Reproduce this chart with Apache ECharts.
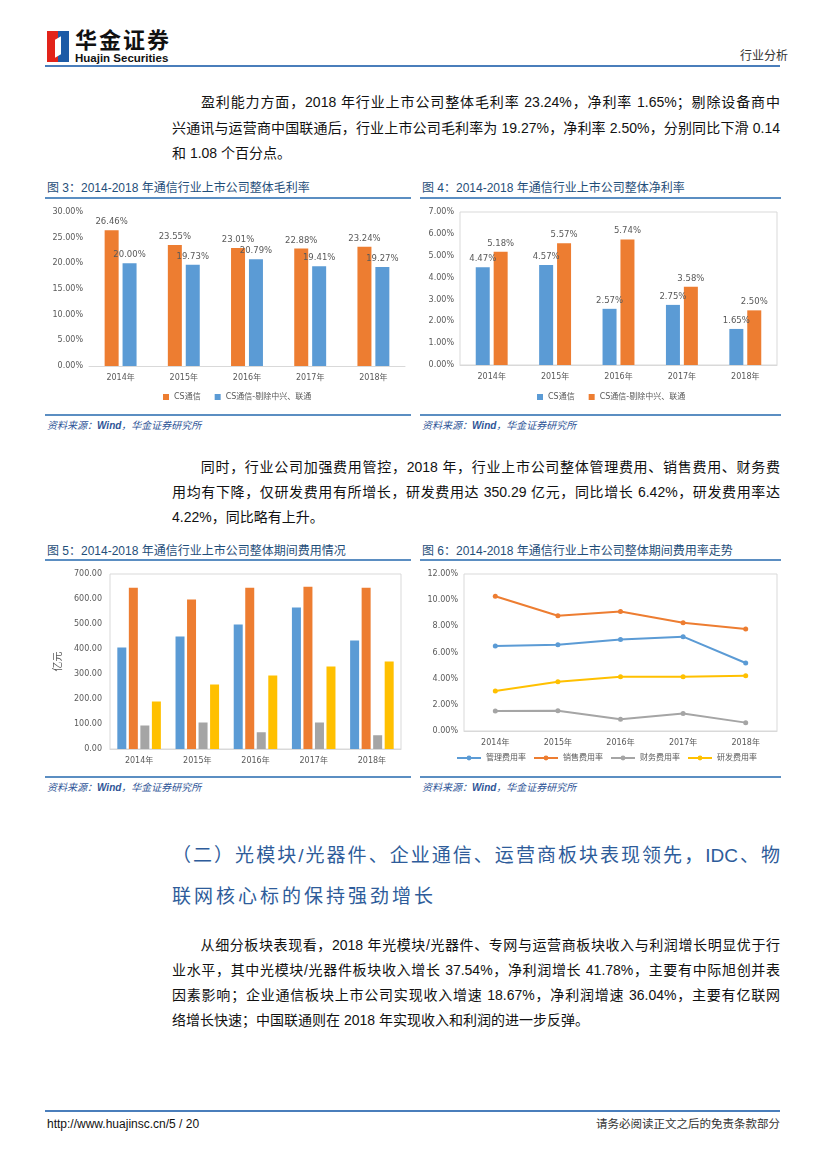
<!DOCTYPE html>
<html><head><meta charset="utf-8">
<script src="https://cdn.jsdelivr.net/npm/echarts@6/dist/echarts.min.js"></script>
<style>
html,body{margin:0;padding:0;background:#fff;}
body{width:827px;height:1169px;position:relative;overflow:hidden;font-family:"Liberation Sans","Noto Sans CJK SC",sans-serif;color:#111;}
.abs{position:absolute;}
.ln{position:absolute;left:172px;width:608px;font-size:14px;line-height:20px;height:20px;white-space:nowrap;}
.j{text-align:justify;text-align-last:justify;}
.ttl{position:absolute;font-size:12px;color:#1F4E79;line-height:16px;white-space:nowrap;}
.rule{position:absolute;height:1.5px;background:#5B8EC2;}
.src{position:absolute;font-size:10px;font-style:italic;color:#2F5597;line-height:14px;white-space:nowrap;}
.h2{position:absolute;left:172px;width:608px;font-size:19px;color:#2E5C9A;line-height:26px;white-space:nowrap;}
.chart{position:absolute;}
</style></head>
<body>
<!-- header -->
<div class="abs" style="left:47px;top:31px;width:11px;height:31px;background:#E2231A;"></div>
<div class="abs" style="left:58px;top:31px;width:11px;height:31px;background:#1D5BA6;"></div>
<div class="abs" style="left:55px;top:38px;width:6px;height:18px;background:#fff;transform:skewY(-30deg);"></div>
<div class="abs" style="left:75px;top:25px;font-size:22px;font-weight:bold;letter-spacing:2px;font-family:'Noto Sans CJK SC';line-height:26px;">华金证券</div>
<div class="abs" style="left:75px;top:52px;font-size:11.5px;font-weight:bold;line-height:12px;font-family:'Liberation Sans Narrow','Liberation Sans';">Huajin Securities</div>
<div class="abs" style="left:740px;top:48px;font-size:12px;color:#333;line-height:16px;">行业分析</div>
<div class="abs" style="left:45px;top:65px;width:735px;height:2px;background:#4A7EBB;"></div>

<!-- paragraph 1 -->
<div class="ln j" style="top:92px;"><span style="display:inline-block;width:28px"></span>盈利能力方面，2018 年行业上市公司整体毛利率 23.24%，净利率 1.65%；剔除设备商中</div>
<div class="ln j" style="top:118px;">兴通讯与运营商中国联通后，行业上市公司毛利率为 19.27%，净利率 2.50%，分别同比下滑 0.14</div>
<div class="ln" style="top:143px;">和 1.08 个百分点。</div>

<!-- fig 3 / 4 titles -->
<div class="ttl" style="left:47px;top:180px;">图 3：2014-2018 年通信行业上市公司整体毛利率</div>
<div class="rule" style="left:45px;top:197px;width:366px;"></div>
<div class="ttl" style="left:422px;top:180px;">图 4：2014-2018 年通信行业上市公司整体净利率</div>
<div class="rule" style="left:420px;top:197px;width:361px;"></div>
<div id="c3" class="chart" style="left:40px;top:200px;width:375px;height:212px;"></div>
<div id="c4" class="chart" style="left:415px;top:200px;width:370px;height:212px;"></div>
<div class="rule" style="left:45px;top:414px;width:366px;"></div>
<div class="rule" style="left:420px;top:414px;width:361px;"></div>
<div class="src" style="left:47px;top:419px;">资料来源：<b>Wind</b>，华金证券研究所</div>
<div class="src" style="left:422px;top:419px;">资料来源：<b>Wind</b>，华金证券研究所</div>

<!-- paragraph 2 -->
<div class="ln j" style="top:457px;"><span style="display:inline-block;width:28px"></span>同时，行业公司加强费用管控，2018 年，行业上市公司整体管理费用、销售费用、财务费</div>
<div class="ln j" style="top:482px;">用均有下降，仅研发费用有所增长，研发费用达 350.29 亿元，同比增长 6.42%，研发费用率达</div>
<div class="ln" style="top:507px;">4.22%，同比略有上升。</div>

<!-- fig 5 / 6 -->
<div class="ttl" style="left:47px;top:543px;">图 5：2014-2018 年通信行业上市公司整体期间费用情况</div>
<div class="rule" style="left:45px;top:559px;width:366px;"></div>
<div class="ttl" style="left:422px;top:543px;">图 6：2014-2018 年通信行业上市公司整体期间费用率走势</div>
<div class="rule" style="left:420px;top:559px;width:361px;"></div>
<div id="c5" class="chart" style="left:40px;top:562px;width:375px;height:212px;"></div>
<div id="c6" class="chart" style="left:415px;top:562px;width:370px;height:212px;"></div>
<div class="rule" style="left:45px;top:776px;width:366px;"></div>
<div class="rule" style="left:420px;top:776px;width:361px;"></div>
<div class="src" style="left:47px;top:781px;">资料来源：<b>Wind</b>，华金证券研究所</div>
<div class="src" style="left:422px;top:781px;">资料来源：<b>Wind</b>，华金证券研究所</div>

<!-- section heading -->
<div class="h2 j" style="top:843px;">（二）光模块/光器件、企业通信、运营商板块表现领先，IDC、物</div>
<div class="h2" style="top:884px;letter-spacing:3px;">联网核心标的保持强劲增长</div>

<!-- paragraph 3 -->
<div class="ln j" style="top:935px;"><span style="display:inline-block;width:28px"></span>从细分板块表现看，2018 年光模块/光器件、专网与运营商板块收入与利润增长明显优于行</div>
<div class="ln j" style="top:960px;">业水平，其中光模块/光器件板块收入增长 37.54%，净利润增长 41.78%，主要有中际旭创并表</div>
<div class="ln j" style="top:985px;">因素影响；企业通信板块上市公司实现收入增速 18.67%，净利润增速 36.04%，主要有亿联网</div>
<div class="ln" style="top:1010px;">络增长快速；中国联通则在 2018 年实现收入和利润的进一步反弹。</div>

<!-- footer -->
<div class="abs" style="left:45px;top:1110px;width:735px;height:2px;background:#4A7EBB;"></div>
<div class="abs" style="left:47px;top:1116px;font-size:12px;line-height:16px;font-family:'Liberation Sans Narrow','Liberation Sans';">http://www.huajinsc.cn/5 / 20</div>
<div class="abs" style="left:585px;top:1116px;width:195px;text-align:right;font-size:11.5px;line-height:16px;color:#333;">请务必阅读正文之后的免责条款部分</div>

<script>
// ---------- data ----------
var years = ['2014年','2015年','2016年','2017年','2018年'];
// Fig 3: gross margin (%)
var grossCS = [26.46, 23.55, 23.01, 22.88, 23.24];
var grossEx = [20.00, 19.73, 20.79, 19.41, 19.27];
// Fig 4: net margin (%)
var netCS = [4.47, 4.57, 2.57, 2.75, 1.65];
var netEx = [5.18, 5.57, 5.74, 3.58, 2.50];
// Fig 5: period expenses (亿元)
var expMgmt = [406, 450, 498, 566, 434];
var expSales = [645, 598, 645, 649, 645];
var expFin = [94, 106, 67, 106, 55];
var expRD = [190, 258, 294, 330, 350.29];
// Fig 6: expense ratios (%)
var rateMgmt = [6.49, 6.59, 7.00, 7.21, 5.20];
var rateSales = [10.30, 8.81, 9.14, 8.27, 7.80];
var rateFin = [1.52, 1.55, 0.90, 1.34, 0.64];
var rateRD = [3.06, 3.76, 4.15, 4.15, 4.22];
var nameCS = 'CS通信';
var nameEx = 'CS通信-剔除中兴、联通';
var rateNames = ['管理费用率','销售费用率','财务费用率','研发费用率'];

var BLUE='#5B9BD5', ORANGE='#ED7D31', GRAY='#A5A5A5', YELLOW='#FFC000';
var FONT = '"DejaVu Sans","Noto Sans CJK SC",sans-serif';
var txt = {color:'#595959', fontSize:8, fontFamily:FONT};

function pct(v){return v.toFixed(2)+'%';}
function yAxisPct(max, interval){
  return {type:'value', min:0, max:max, interval:interval,
    axisLabel:Object.assign({formatter:function(v){return v.toFixed(2)+'%';}, margin:6}, txt),
    axisLine:{show:false}, axisTick:{show:false}, splitLine:{show:false}};
}
function xCat(){
  return {type:'category', data:years, axisTick:{show:false},
    axisLine:{show:true, lineStyle:{color:'#D9D9D9'}},
    axisLabel:Object.assign({margin:8}, txt)};
}
function barLabel(){
  return Object.assign({show:true, position:'top', distance:4, formatter:function(p){return pct(p.value);}}, txt, {fontSize:8.5});
}

// Fig 3
var c3 = echarts.init(document.getElementById('c3'));
c3.setOption({
  animation:false,
  grid:{left:49, right:10, top:12, bottom:46, containLabel:false},
  legend:{bottom:6, left:118, width:250, itemWidth:6, itemHeight:6, itemGap:14, icon:'rect', textStyle:txt,
    data:[nameCS, nameEx]},
  xAxis:xCat(),
  yAxis:yAxisPct(30,5),
  series:[
    {name:nameCS, type:'bar', data:grossCS, barWidth:14, barGap:'28%', itemStyle:{color:ORANGE}, label:barLabel()},
    {name:nameEx, type:'bar', data:grossEx, barWidth:14, itemStyle:{color:BLUE}, label:barLabel()}
  ]
});

// Fig 4
var c4 = echarts.init(document.getElementById('c4'));
c4.setOption({
  animation:false,
  grid:{left:45, right:8, top:12, bottom:47, show:true, borderColor:'#D9D9D9', borderWidth:1},
  legend:{bottom:6, left:117, width:250, itemWidth:6, itemHeight:6, itemGap:14, icon:'rect', textStyle:txt,
    data:[nameCS, nameEx]},
  xAxis:xCat(),
  yAxis:yAxisPct(7,1),
  series:[
    {name:nameCS, type:'bar', data:netCS, barWidth:14, barGap:'28%', itemStyle:{color:BLUE}, label:barLabel()},
    {name:nameEx, type:'bar', data:netEx, barWidth:14, itemStyle:{color:ORANGE}, label:barLabel()}
  ]
});

// Fig 5
var c5 = echarts.init(document.getElementById('c5'));
var s5 = [[expMgmt,BLUE,'管理费用'],[expSales,ORANGE,'销售费用'],[expFin,GRAY,'财务费用'],[expRD,YELLOW,'研发费用']];
c5.setOption({
  animation:false,
  grid:{left:70, right:14, top:12, bottom:25, show:true, borderColor:'#D9D9D9', borderWidth:1},
  xAxis:xCat(),
  yAxis:{type:'value', min:0, max:700, interval:100, name:'亿元', nameLocation:'middle', nameGap:38,
    nameRotate:90, nameTextStyle:Object.assign({}, txt, {fontSize:10}),
    axisLabel:Object.assign({formatter:function(v){return v.toFixed(2);}, margin:8}, txt),
    axisLine:{show:false}, axisTick:{show:false}, splitLine:{show:false}},
  series:s5.map(function(s){return {name:s[2], type:'bar', data:s[0], barWidth:9, barGap:'28%', barCategoryGap:'22%', itemStyle:{color:s[1]}};})
});

// Fig 6
var c6 = echarts.init(document.getElementById('c6'));
var s6 = [[rateMgmt,BLUE],[rateSales,ORANGE],[rateFin,GRAY],[rateRD,YELLOW]];
c6.setOption({
  animation:false,
  grid:{left:49, right:8, top:12, bottom:43, show:true, borderColor:'#D9D9D9', borderWidth:1},
  legend:{bottom:7, left:36, width:400, itemWidth:24, itemHeight:6, itemGap:7, textStyle:txt, data:rateNames},
  xAxis:xCat(),
  yAxis:yAxisPct(12,2),
  series:s6.map(function(s,i){return {name:rateNames[i], type:'line', data:s[0], symbol:'circle', symbolSize:5,
    lineStyle:{color:s[1], width:2}, itemStyle:{color:s[1]}};})
});
</script>
</body></html>
